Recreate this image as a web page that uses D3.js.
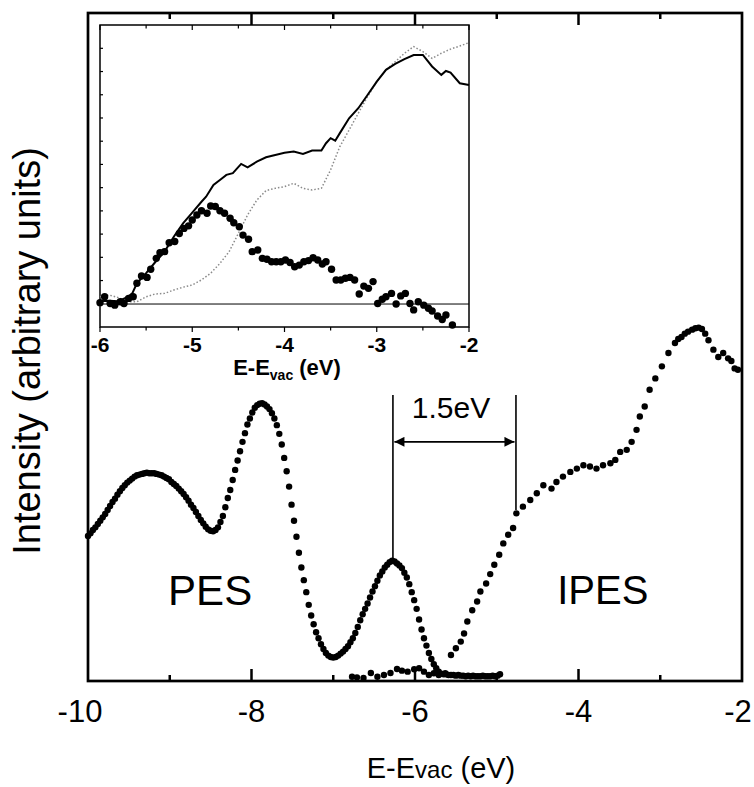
<!DOCTYPE html>
<meta charset="utf-8">
<title>PES / IPES spectra</title>

<style>
body { margin: 0; background: #fff; }
text { font-family: "Liberation Sans", Arial, sans-serif; fill: #000; }
.frame { fill: none; stroke: #000; stroke-width: 2.7; }
.tick { stroke: #000; stroke-width: 2.5; }
.in-frame { fill: #fff; stroke: #000; stroke-width: 1.5; }
.in-tick { stroke: #000; stroke-width: 1.2; }
.marker-line { stroke: #000; stroke-width: 1.6; }
</style>

<body>
<svg width="754" height="787"></svg>

<script src="https://d3js.org/d3.v7.min.js"></script>

<script>

// ---- main panel data ----
var mainTicks = [-10, -8, -6, -4, -2];
var mainMinor = [-9, -7, -5, -3];

// PES, sampled on a 0.03 eV grid starting at -10 eV
var pesStart = -10, pesStep = 0.03;
var pesValues = [
  21.7,22.1,22.6,23.0,23.5,24.0,24.5,25.0,25.6,26.2,
  26.8,27.3,27.9,28.4,28.9,29.3,29.7,30.0,30.3,30.6,
  30.8,30.9,31.0,31.1,31.2,31.1,31.1,31.1,31.0,30.9,
  30.8,30.6,30.4,30.2,29.8,29.5,29.2,28.8,28.4,28.0,
  27.5,27.0,26.4,25.9,25.3,24.7,24.1,23.6,23.1,22.7,
  22.5,22.4,22.6,23.0,23.8,24.7,26.0,27.4,28.6,30.1,
  31.6,33.0,34.4,35.8,37.1,38.4,39.3,40.2,40.9,41.3,
  41.5,41.6,41.4,41.1,40.7,40.1,39.3,38.3,37.0,35.4,
  33.4,31.4,29.1,26.4,24.0,21.6,19.2,17.0,15.1,13.3,
  11.4,9.8,8.5,7.3,6.4,5.5,4.8,4.2,3.8,3.6,
  3.5,3.6,3.8,4.1,4.4,4.8,5.2,5.8,6.4,7.2,
  8.1,9.1,10.0,10.8,11.6,12.5,13.4,14.2,15.0,15.8,
  16.4,17.0,17.4,17.8,18.0,17.9,17.6,17.3,16.9,16.2,
  15.5,14.5,13.3,12.1,10.8,9.2,7.7,6.4,5.3,4.2,
  3.3,2.5,1.9,1.4,1.1,1.0,1.0,0.9,0.9,0.9,
  0.8,0.9,0.8,0.8,0.7,0.8,0.7,0.8,0.7,0.7,
  0.7,0.8,0.7,0.7,0.7,0.8,0.7,0.8,1.0
];

// IPES
var ipesE = [-6.77,-6.71,-6.63,-6.54,-6.46,-6.38,-6.30,-6.22,-6.16,-6.09,-6.01,-5.95,-5.89,-5.83,-5.77,-5.71,-5.63,
  -5.56,-5.50,-5.44,-5.40,-5.36,-5.30,-5.24,-5.20,-5.13,-5.08,-5.03,-4.97,-4.92,-4.86,-4.80,-4.76,-4.68,-4.59,
  -4.51,-4.43,-4.33,-4.27,-4.19,-4.10,-4.02,-3.94,-3.86,-3.78,-3.70,-3.61,-3.55,-3.49,-3.41,-3.35,-3.29,-3.25,
  -3.19,-3.13,-3.06,-2.98,-2.90,-2.82,-2.78,-2.74,-2.70,-2.66,-2.61,-2.57,-2.53,-2.49,-2.45,-2.41,-2.35,-2.29,
  -2.23,-2.17,-2.13,-2.09,-2.05];
var ipesV = [0.64,0.55,0.45,1.2,0.64,0.9,1.2,1.8,1.55,1.4,1.75,1.9,1.4,0.9,1.15,0.9,1.15,
  3.9,4.9,5.9,7.1,8.9,10.6,11.9,13.4,14.6,16.0,17.4,18.9,20.6,21.9,22.9,25.1,26.1,27.1,
  28.1,29.3,28.8,29.8,30.6,31.3,31.8,32.3,32.1,31.8,32.3,32.6,33.1,34.3,34.6,35.8,37.6,39.6,
  41.1,43.6,45.3,47.1,49.1,50.6,51.2,51.5,52.0,52.3,52.6,52.8,52.9,52.7,52.0,51.0,49.6,48.5,
  49.1,48.3,47.9,46.8,46.6];

// ---- inset data ----
var insetTicks = [-6, -5, -4, -3, -2];
var insetMinor = [-5.5, -4.5, -3.5, -2.5];

var inSolidE = [-6.0,-5.9,-5.8,-5.7,-5.65,-5.6,-5.5,-5.4,-5.3,-5.2,-5.1,-5.0,-4.9,-4.85,-4.77,-4.7,-4.63,-4.56,-4.47,
  -4.4,-4.3,-4.2,-4.1,-4.0,-3.9,-3.8,-3.7,-3.6,-3.55,-3.5,-3.45,-3.4,-3.3,-3.2,-3.1,-3.0,-2.9,-2.8,-2.7,-2.6,
  -2.5,-2.4,-2.3,-2.25,-2.2,-2.1,-2.0];
var inSolidV = [1.0,1.2,1.0,2.5,3.8,7.4,11,15,18.7,24,28.8,32.6,36.5,38.3,42.5,44.3,46.1,46.7,50.0,
  48.8,50.8,52.4,53.2,54.0,54.4,53.6,54.8,54.8,57.4,59.2,58.3,61.0,66.3,69.9,74.6,79.4,83.6,85.7,87.4,88.9,
  88.9,84.8,81.8,83.2,82.6,78.8,78.2];

var inDashE = [-6.0,-5.9,-5.8,-5.7,-5.6,-5.5,-5.4,-5.3,-5.2,-5.1,-5.0,-4.9,-4.8,-4.7,-4.6,-4.5,-4.4,-4.3,-4.2,-4.1,
  -4.0,-3.9,-3.8,-3.7,-3.6,-3.5,-3.4,-3.3,-3.2,-3.1,-3.0,-2.9,-2.8,-2.7,-2.6,-2.5,-2.4,-2.3,-2.2,-2.1,-2.0];
var inDashV = [2.6,3.2,2.3,0.8,0.8,2.6,3.6,3.8,5.0,6.0,6.8,8.6,11.0,14.5,18.7,25.2,31.8,37.1,40.5,41.3,
  41.9,43.1,41.3,40.7,41.3,47.9,56.2,62.1,68.1,74.0,79.4,83.6,86.5,89.5,91.9,90.1,87.7,89.5,91.0,92.1,93.3];

var inDotE = [-6.00,-5.95,-5.89,-5.84,-5.78,-5.74,-5.69,-5.64,-5.60,-5.55,-5.49,-5.45,-5.39,-5.35,-5.30,-5.25,
  -5.19,-5.14,-5.09,-5.04,-5.00,-4.95,-4.90,-4.84,-4.80,-4.75,-4.70,-4.65,-4.59,-4.55,-4.49,-4.45,-4.39,-4.35,
  -4.29,-4.24,-4.19,-4.14,-4.09,-4.04,-3.99,-3.94,-3.89,-3.84,-3.79,-3.74,-3.69,-3.64,-3.59,-3.55,-3.49,-3.44,
  -3.39,-3.34,-3.29,-3.24,-3.19,-3.14,-3.09,-3.04,-2.99,-2.94,-2.90,-2.84,-2.79,-2.74,-2.69,-2.64,-2.60,-2.55,
  -2.49,-2.44,-2.40,-2.34,-2.29,-2.25,-2.18];
var inDotV = [0.5,2.6,0.2,-0.4,0.8,0.2,2.0,2.6,7.4,10,9.5,12.4,16.3,18.3,18.7,21.9,
  22.3,25.2,27,27.9,30,31.8,33.3,32.4,35,34.8,33.3,32.4,30.6,29,27.6,24.6,23.1,18.7,
  19.3,16.3,16,15.1,15.1,15.1,15.7,14.8,13.3,13.9,15.1,15.5,16.5,15.7,14.3,15.1,12.4,8.6,
  8.6,9.2,9.5,8.6,3.6,6.4,5.6,8,0.2,1.7,2.6,3.8,0,2.9,3.8,0.2,-2.1,0.8,
  -0.4,-1.5,-2.5,-4.3,-5.5,-3.9,-7.5];

// ---- 1.5 eV gap marker ----
var gapE = [-6.27, -4.765];
var gapLabel = "1.5eV";

var svg = d3.select("svg");

var x = d3.scaleLinear().domain([-10, -2]).range([88, 742]),
    y = d3.scaleLinear().domain([0, 100]).range([681, 13]);

var pes = pesValues.map(function(v, i) { return [pesStart + i * pesStep, v]; });
var ipes = d3.zip(ipesE, ipesV);

// main frame + ticks
svg.append("rect").attr("class", "frame")
    .attr("x", x(-10)).attr("y", y(100))
    .attr("width", x(-2) - x(-10)).attr("height", y(0) - y(100));

function ticks(vals, len) {
  svg.selectAll(null).data(vals).enter().append("line").attr("class", "tick")
      .attr("x1", d => x(d)).attr("x2", d => x(d))
      .attr("y1", y(0)).attr("y2", y(0) - len);
  svg.selectAll(null).data(vals).enter().append("line").attr("class", "tick")
      .attr("x1", d => x(d)).attr("x2", d => x(d))
      .attr("y1", y(100)).attr("y2", y(100) + len);
}
ticks(mainTicks.slice(1, -1), 12);
ticks(mainMinor, 6);

// first and last labels are nudged inward, as in the original
svg.selectAll(".xlab").data(mainTicks).enter().append("text")
    .attr("class", "xlab")
    .attr("x", (d, i) => x(d) + (i == 0 ? -8 : i == mainTicks.length - 1 ? -4 : 0))
    .attr("y", 722)
    .attr("text-anchor", "middle")
    .style("font-size", "31px")
    .text(d => String(d));

var xt = svg.append("text").attr("x", 441).attr("y", 778)
    .attr("text-anchor", "middle").style("font-size", "29px");
xt.append("tspan").text("E-E");
xt.append("tspan").style("font-size", "24px").text("vac");
xt.append("tspan").text(" (eV)");

svg.append("text")
    .attr("transform", "translate(40,351) rotate(-90)")
    .attr("text-anchor", "middle")
    .style("font-size", "38px")
    .text("Intensity (arbitrary units)");

// spectra
svg.append("g").selectAll("circle").data(pes).enter().append("circle")
    .attr("cx", d => x(d[0])).attr("cy", d => y(d[1])).attr("r", 3.2);
svg.append("g").selectAll("circle").data(ipes).enter().append("circle")
    .attr("cx", d => x(d[0])).attr("cy", d => y(d[1])).attr("r", 3.2);

svg.append("text").attr("x", x(-9.02)).attr("y", y(11.4))
    .style("font-size", "42px").text("PES");
svg.append("text").attr("x", x(-4.26)).attr("y", y(11.5))
    .style("font-size", "40px").text("IPES");

// gap marker
svg.append("defs").append("marker")
    .attr("id", "head").attr("viewBox", "0 0 10 10")
    .attr("refX", 10).attr("refY", 5)
    .attr("markerUnits", "userSpaceOnUse")
    .attr("markerWidth", 16).attr("markerHeight", 10)
    .attr("orient", "auto-start-reverse")
  .append("path").attr("d", "M0,0L10,5L0,10z");

svg.append("line").attr("class", "marker-line")
    .attr("x1", x(gapE[0])).attr("x2", x(gapE[0]))
    .attr("y1", y(42.8)).attr("y2", y(18.0));
svg.append("line").attr("class", "marker-line")
    .attr("x1", x(gapE[1])).attr("x2", x(gapE[1]))
    .attr("y1", y(42.8)).attr("y2", y(25.6));
svg.append("line").attr("class", "marker-line")
    .attr("x1", x(gapE[0]) + 1.5).attr("x2", x(gapE[1]) - 1.5)
    .attr("y1", y(35.8)).attr("y2", y(35.8))
    .attr("marker-start", "url(#head)").attr("marker-end", "url(#head)");
svg.append("text").attr("x", x(-5.56)).attr("y", y(39.4))
    .attr("text-anchor", "middle").style("font-size", "30px").text(gapLabel);

// ---- inset ----
var ix = d3.scaleLinear().domain([-6, -2]).range([100, 469]),
    iy = d3.scaleLinear().domain([-8.2, 99.6]).range([327, 25]);

var ins = svg.append("g");
ins.append("rect").attr("class", "in-frame")
    .attr("x", ix(-6)).attr("y", iy(99.6))
    .attr("width", ix(-2) - ix(-6)).attr("height", iy(-8.2) - iy(99.6));

var iyStep = 8.29;
ins.selectAll(null).data(d3.range(1, 13)).enter().append("line").attr("class", "in-tick")
    .attr("x1", ix(-6)).attr("x2", ix(-6) + 3)
    .attr("y1", k => iy(-8.2 + k * iyStep)).attr("y2", k => iy(-8.2 + k * iyStep));

function inTicks(vals, len) {
  ins.selectAll(null).data(vals).enter().append("line").attr("class", "in-tick")
      .attr("x1", d => ix(d)).attr("x2", d => ix(d))
      .attr("y1", iy(-8.2)).attr("y2", iy(-8.2) + len);
  ins.selectAll(null).data(vals).enter().append("line").attr("class", "in-tick")
      .attr("x1", d => ix(d)).attr("x2", d => ix(d))
      .attr("y1", iy(99.6)).attr("y2", iy(99.6) + len);
}
inTicks(insetTicks, 5);
inTicks(insetMinor, 3.5);

ins.selectAll(".ilab").data(insetTicks).enter().append("text")
    .attr("x", d => ix(d)).attr("y", 352)
    .attr("text-anchor", "middle")
    .style("font-size", "21px").style("font-weight", "bold")
    .text(d => String(d));

var it = ins.append("text").attr("x", 287).attr("y", 375)
    .attr("text-anchor", "middle")
    .style("font-size", "22px").style("font-weight", "bold");
it.append("tspan").text("E-E");
it.append("tspan").attr("dy", 5).style("font-size", "14px").text("vac");
it.append("tspan").attr("dy", -5).text(" (eV)");

// zero line
ins.append("line")
    .attr("x1", ix(-6)).attr("x2", ix(-2))
    .attr("y1", iy(0)).attr("y2", iy(0))
    .attr("stroke", "#000").attr("stroke-width", 1);

var iline = d3.line().x(d => ix(d[0])).y(d => iy(d[1]));

ins.append("path")
    .datum(d3.zip(inDashE, inDashV))
    .attr("fill", "none").attr("stroke", "#8a8a8a")
    .attr("stroke-width", 1.5).attr("stroke-dasharray", "1.5,2")
    .attr("d", iline);

ins.append("path")
    .datum(d3.zip(inSolidE, inSolidV))
    .attr("fill", "none").attr("stroke", "#000").attr("stroke-width", 2)
    .attr("d", iline);

ins.append("g").selectAll("circle").data(d3.zip(inDotE, inDotV)).enter().append("circle")
    .attr("cx", d => ix(d[0])).attr("cy", d => iy(d[1])).attr("r", 3.7);

</script>
</body>
